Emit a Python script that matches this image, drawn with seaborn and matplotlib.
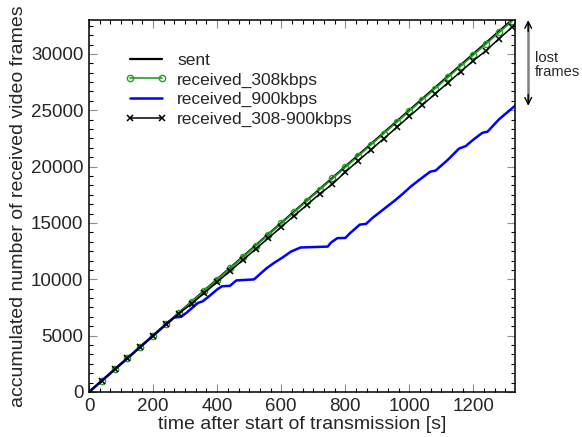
import matplotlib
matplotlib.use("Agg")
import matplotlib.pyplot as plt
import seaborn as sns

# time axis of the sampled (marked) series [s]
t_marks = [0, 40, 80, 120, 160, 200, 240, 280, 320, 360, 400, 440, 480, 520,
           560, 600, 640, 680, 720, 760, 800, 840, 880, 920, 960, 1000, 1040,
           1080, 1120, 1160, 1200, 1240, 1280, 1320]

sent = [0, 1000, 2000, 3000, 4000, 5000, 6000, 7000, 8000, 9000, 10000, 11000,
        12000, 13000, 14000, 15000, 16000, 17000, 18000, 19000, 20000, 21000,
        22000, 23000, 24000, 25000, 26000, 27000, 28000, 29000, 30000, 31000,
        32000, 33000]

received_308 = [0, 1000, 2000, 2995, 3995, 4990, 5990, 6985, 7980, 8980, 9975,
                10970, 11970, 12965, 13960, 14960, 15955, 16950, 17950, 18945,
                19940, 20940, 21935, 22930, 23930, 24925, 25920, 26920, 27915,
                28910, 29910, 30905, 31900, 32900]

received_mixed = [0, 1000, 2000, 3000, 4000, 5000, 6000, 6950, 7820, 8790,
                  9760, 10730, 11700, 12680, 13660, 14640, 15620, 16600, 17580,
                  18450, 19520, 20510, 21500, 22480, 23470, 24460, 25450, 26440,
                  27430, 28420, 29410, 30300, 31360, 32350]

# received_900kbps traced at its own time points
t_900 = [0, 100, 200, 265, 288, 305, 340, 355, 375, 400, 415, 440, 460, 515,
         535, 555, 580, 605, 630, 660, 700, 745, 755, 775, 800, 815, 845, 865,
         885, 910, 930, 955, 980, 1003, 1030, 1065, 1082, 1120, 1155, 1176,
         1200, 1228, 1244, 1280, 1330]
received_900 = [0, 2500, 5000, 6600, 6680, 7050, 7900, 8050, 8500, 9100, 9380,
                9420, 9900, 9990, 10500, 11000, 11500, 11950, 12450, 12820,
                12860, 12900, 13250, 13650, 13670, 14100, 14850, 14920, 15450,
                16000, 16450, 17000, 17600, 18200, 18800, 19550, 19650, 20600,
                21600, 21820, 22400, 23000, 23100, 24200, 25400]

sns.set_style("ticks")
plt.rcParams["font.family"] = ["Liberation Sans", "DejaVu Sans"]

fig = plt.figure(figsize=(5.82, 4.37), dpi=100)
ax = fig.add_axes([0.153, 0.103, 0.732, 0.851])

sns.lineplot(x=t_marks, y=sent, color="black", linewidth=1.6, label="sent", ax=ax)
sns.lineplot(x=t_marks, y=received_308, color="#22a022", linewidth=1.2,
             marker="o", markersize=4.5, markerfacecolor="none",
             markeredgecolor="#22a022", markeredgewidth=1.0,
             label="received_308kbps", ax=ax)
sns.lineplot(x=t_900, y=received_900, color="#0000ff", linewidth=1.8,
             label="received_900kbps", ax=ax)
sns.lineplot(x=t_marks, y=received_mixed, color="black", linewidth=1.1,
             marker="x", markersize=4.5, markeredgewidth=1.1,
             markeredgecolor="black", label="received_308-900kbps", ax=ax)

ax.set_xticks(range(0, 1201, 200))
ax.set_yticks(range(0, 30001, 5000))
ax.set_xticks([i * 200 / 6 for i in range(40)], minor=True)
ax.set_yticks([i * 5000 / 6 for i in range(40)], minor=True)
ax.set_xlim(0, 1330)
ax.set_ylim(0, 33000)

ax.tick_params(which="both", direction="in", top=True, right=True)
ax.tick_params(which="major", length=6, width=0.8, color="#909090",
               labelsize=13.5, pad=4)
ax.tick_params(which="minor", length=3, width=0.8, color="black")
for sp in ax.spines.values():
    sp.set_linewidth(1.1)
    sp.set_color("black")

ax.set_xlabel("time after start of transmission [s]", fontsize=14, labelpad=1)
ax.set_ylabel("accumulated number of received video frames", fontsize=14,
              labelpad=3)

ax.legend(loc="upper left", bbox_to_anchor=(0.085, 0.912), frameon=False,
          fontsize=12.5, handlelength=2.4, handletextpad=0.6, numpoints=2,
          labelspacing=0.25, borderpad=0, borderaxespad=0)

# lost frames indicator outside the right edge
x_arrow = 1371
ax.plot([x_arrow, x_arrow], [33000 - 300, 25400 + 300], color="#808080",
        linewidth=1.8, clip_on=False)
ax.annotate("", xy=(x_arrow, 33000), xytext=(x_arrow, 32000),
            arrowprops=dict(arrowstyle="->", color="black", lw=1.0,
                            mutation_scale=12, shrinkA=0, shrinkB=0),
            annotation_clip=False)
ax.annotate("", xy=(x_arrow, 25400), xytext=(x_arrow, 26400),
            arrowprops=dict(arrowstyle="->", color="black", lw=1.0,
                            mutation_scale=12, shrinkA=0, shrinkB=0),
            annotation_clip=False)
ax.text(1393, 29000, "lost\nframes", fontsize=10.6, ha="left", va="center",
        linespacing=1.0, clip_on=False)

fig.savefig("out.png", dpi=100)
